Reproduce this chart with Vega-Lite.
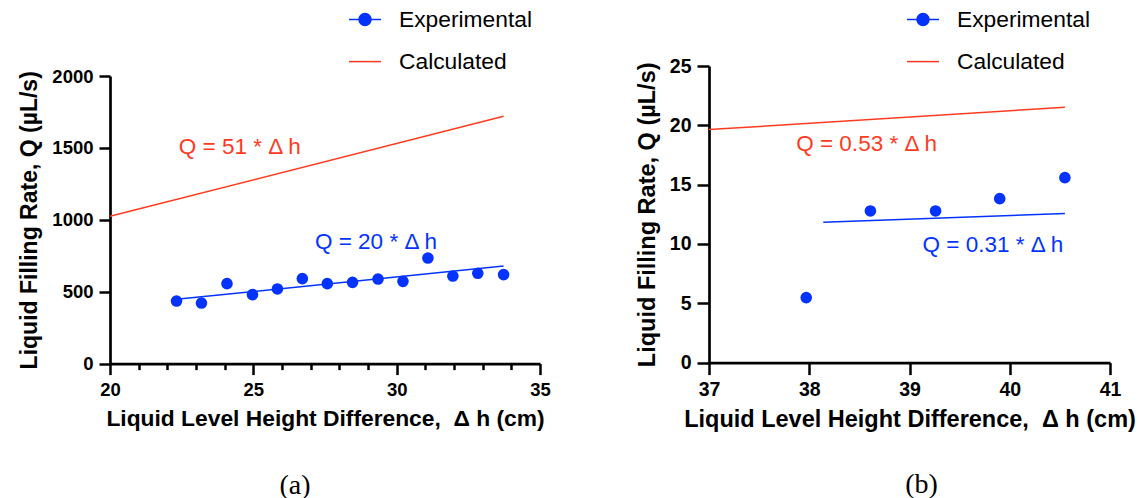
{
  "$schema": "https://vega.github.io/schema/vega-lite/v6.json",
  "background": "white",
  "padding": {"left": 18, "top": 2, "right": 0, "bottom": 0},
  "spacing": 84,
  "columns": 2,
  "config": {
    "view": {"stroke": null},
    "axis": {
      "grid": false,
      "domainColor": "black",
      "domainWidth": 2.7,
      "tickColor": "black",
      "tickWidth": 2.5,
      "tickSize": 11,
      "labelFont": "Liberation Sans",
      "labelFontWeight": "bold",
      "labelColor": "black",
      "labelPadding": 6,
      "labelFlush": false,
      "labelOverlap": false,
      "format": "d",
      "titleFont": "Liberation Sans",
      "titleFontWeight": "bold",
      "titleColor": "black"
    },
    "legend": {
      "title": null,
      "orient": "none",
      "padding": 0,
      "labelFont": "Liberation Sans",
      "labelFontSize": 22.8,
      "labelColor": "black",
      "labelOffset": 17,
      "rowPadding": 13,
      "symbolSize": 1024,
      "symbolStrokeWidth": 1.5
    }
  },
  "datasets": {
    "a_pts": [
      {"x": 22.32, "y": 435}, {"x": 23.19, "y": 421}, {"x": 24.08, "y": 556}, {"x": 24.97, "y": 480},
      {"x": 25.84, "y": 519}, {"x": 26.71, "y": 591}, {"x": 27.58, "y": 556}, {"x": 28.46, "y": 565},
      {"x": 29.35, "y": 588}, {"x": 30.22, "y": 572}, {"x": 31.09, "y": 734}, {"x": 31.96, "y": 609},
      {"x": 32.83, "y": 628}, {"x": 33.73, "y": 619}
    ],
    "a_lines": [
      {"series": "Experimental", "x": 22.32, "y": 447}, {"series": "Experimental", "x": 33.73, "y": 679},
      {"series": "Calculated", "x": 20, "y": 1024}, {"series": "Calculated", "x": 33.73, "y": 1720}
    ],
    "a_txt": [
      {"series": "Calculated", "x": 22.4, "y": 1508, "label": "Q = 51 * Δ h"},
      {"series": "Experimental", "x": 27.15, "y": 843, "label": "Q = 20 * Δ h"}
    ],
    "b_pts": [
      {"x": 37.97, "y": 5.48}, {"x": 38.61, "y": 12.78}, {"x": 39.26, "y": 12.78}, {"x": 39.9, "y": 13.82}, {"x": 40.55, "y": 15.59}
    ],
    "b_lines": [
      {"series": "Experimental", "x": 38.14, "y": 11.83}, {"series": "Experimental", "x": 40.55, "y": 12.56},
      {"series": "Calculated", "x": 37, "y": 19.64}, {"series": "Calculated", "x": 40.55, "y": 21.52}
    ],
    "b_txt": [
      {"series": "Calculated", "x": 37.87, "y": 18.4, "label": "Q = 0.53 * Δ h"},
      {"series": "Experimental", "x": 39.13, "y": 9.89, "label": "Q = 0.31 * Δ h"}
    ]
  },
  "resolve": {
    "scale": {"color": "independent", "x": "independent", "y": "independent"},
    "legend": {"color": "independent"}
  },
  "concat": [
    {
      "width": 430,
      "height": 297.6,
      "title": {"text": "(a)", "orient": "bottom", "anchor": "middle", "font": "Liberation Serif", "fontSize": 28, "fontWeight": "normal", "color": "black", "offset": 42, "dx": -30},
      "encoding": {
        "x": {"field": "x", "type": "quantitative", "scale": {"domain": [20, 35], "nice": false, "zero": false},
          "axis": {"title": "Liquid Level Height Difference,\u00a0 Δ h (cm)", "titleFontSize": 22.8, "titlePadding": 8, "labelFontSize": 18.5,
            "labelOverlap": false,
            "values": [20, 21, 22, 23, 24, 25, 26, 27, 28, 29, 30, 31, 32, 33, 34, 35],
            "labelExpr": "datum.value % 5 === 0 ? datum.label : ''",
            "tickSize": {"condition": {"test": "datum.value % 5 === 0", "value": 11}, "value": 6}}},
        "y": {"field": "y", "type": "quantitative", "scale": {"domain": [0, 2000], "range": [297.6, 10], "nice": false},
          "axis": {"title": "Liquid Filling Rate, Q (µL/s)", "titleFontSize": 23, "titlePadding": 10, "labelFontSize": 18.5, "labelOverlap": false, "values": [0, 500, 1000, 1500, 2000]}}
      },
      "layer": [
        {
          "data": {"name": "a_lines"},
          "mark": {"type": "line", "strokeWidth": 1.5, "clip": false},
          "encoding": {
            "color": {"field": "series", "type": "nominal",
              "scale": {"domain": ["Experimental", "Calculated"], "range": ["#0433ff", "#ff3b1f"]},
              "legend": {"legendX": 238, "legendY": -63.4,
                "encode": {"symbols": {"update": {
                  "shape": {"signal": "datum.value === 'Experimental' ? 'M-1,0L1,0M0.375,0A0.375,0.375,0,1,1,-0.375,0A0.375,0.375,0,1,1,0.375,0Z' : 'M-1,0L1,0'"},
                  "fill": {"signal": "datum.value === 'Experimental' ? '#0433ff' : 'transparent'"},
                  "stroke": {"signal": "datum.value === 'Experimental' ? '#0433ff' : '#ff3b1f'"},
                  "strokeWidth": {"value": 1.5}}}}}}
          }
        },
        {
          "data": {"name": "a_pts"},
          "mark": {"type": "point", "filled": true, "size": 135, "opacity": 1},
          "encoding": {
            "color": {"value": "#0433ff"}
          }
        },
        {
          "data": {"name": "a_txt"},
          "mark": {"type": "text", "align": "left", "baseline": "middle", "font": "Liberation Sans", "fontSize": 22.5},
          "encoding": {
            "text": {"field": "label"},
            "color": {"condition": {"test": "datum.series === 'Calculated'", "value": "#ff3b1f"}, "value": "#0433ff"}
          }
        }
      ]
    },
    {
      "width": 401,
      "height": 296.6,
      "title": {"text": "(b)", "orient": "bottom", "anchor": "middle", "font": "Liberation Serif", "fontSize": 28, "fontWeight": "normal", "color": "black", "offset": 40, "dx": 12},
      "encoding": {
        "x": {"field": "x", "type": "quantitative", "scale": {"domain": [37, 41], "nice": false, "zero": false},
          "axis": {"title": "Liquid Level Height Difference,\u00a0 Δ h (cm)", "titleFontSize": 23.5, "titlePadding": 8, "labelFontSize": 19.5, "tickSize": 12, "labelOverlap": false, "values": [37, 38, 39, 40, 41]}},
        "y": {"field": "y", "type": "quantitative", "scale": {"domain": [0, 25], "nice": false},
          "axis": {"title": "Liquid Filling Rate, Q (µL/s)", "titleFontSize": 23.5, "titlePadding": 10, "labelFontSize": 19.5, "tickSize": 12, "labelOverlap": false, "values": [0, 5, 10, 15, 20, 25]}}
      },
      "layer": [
        {
          "data": {"name": "b_lines"},
          "mark": {"type": "line", "strokeWidth": 1.5, "clip": false},
          "encoding": {
            "color": {"field": "series", "type": "nominal",
              "scale": {"domain": ["Experimental", "Calculated"], "range": ["#0433ff", "#ff3b1f"]},
              "legend": {"legendX": 197, "legendY": -63.4,
                "encode": {"symbols": {"update": {
                  "shape": {"signal": "datum.value === 'Experimental' ? 'M-1,0L1,0M0.375,0A0.375,0.375,0,1,1,-0.375,0A0.375,0.375,0,1,1,0.375,0Z' : 'M-1,0L1,0'"},
                  "fill": {"signal": "datum.value === 'Experimental' ? '#0433ff' : 'transparent'"},
                  "stroke": {"signal": "datum.value === 'Experimental' ? '#0433ff' : '#ff3b1f'"},
                  "strokeWidth": {"value": 1.5}}}}}}
          }
        },
        {
          "data": {"name": "b_pts"},
          "mark": {"type": "point", "filled": true, "size": 135, "opacity": 1},
          "encoding": {
            "color": {"value": "#0433ff"}
          }
        },
        {
          "data": {"name": "b_txt"},
          "mark": {"type": "text", "align": "left", "baseline": "middle", "font": "Liberation Sans", "fontSize": 22.5},
          "encoding": {
            "text": {"field": "label"},
            "color": {"condition": {"test": "datum.series === 'Calculated'", "value": "#ff3b1f"}, "value": "#0433ff"}
          }
        }
      ]
    }
  ]
}
